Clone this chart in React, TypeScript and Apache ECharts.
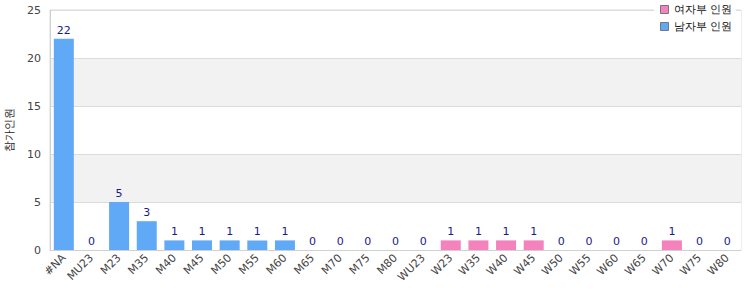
import React, { useEffect, useRef } from "react";
import * as echarts from "echarts";

const categories = ["#NA","MU23","M23","M35","M40","M45","M50","M55","M60","M65","M70","M75","M80","WU23","W23","W35","W40","W45","W50","W55","W60","W65","W70","W75","W80"];
const menValues: (number | string)[] = [22,0,5,3,1,1,1,1,1,0,0,0,0,0,"-","-","-","-","-","-","-","-","-","-","-"];
const womenValues: (number | string)[] = ["-","-","-","-","-","-","-","-","-","-","-","-","-","-",1,1,1,1,0,0,0,0,1,0,0];
const yTicks = { min: 0, max: 25, interval: 5 };
const womenName = "여자부 인원";
const menName = "남자부 인원";
const yName = "참가인원";

export default function App() {
  const ref = useRef<HTMLDivElement>(null);
  useEffect(() => {
    if (!ref.current) return;
    const chart = echarts.init(ref.current, undefined, { renderer: "svg" });
    const font = "DejaVu Sans";
    const label = { show: true, position: "top", color: "#1a1a8a", fontSize: 11, fontFamily: font, distance: 3 };
    chart.setOption({
      animation: false,
      textStyle: { fontFamily: font },
      grid: { left: 50, right: 9, top: 10, bottom: 50, show: true, borderColor: "#dcdcdc", borderWidth: 1, outerBoundsMode: "none", containLabel: false },
      legend: {
        orient: "vertical",
        right: 14,
        top: 2,
        icon: "rect",
        itemWidth: 8,
        itemHeight: 8,
        itemGap: 6,
        backgroundColor: "#fff",
        padding: [2, 4, 2, 6],
        textStyle: { fontSize: 11, color: "#111", fontFamily: font },
        data: [
          { name: womenName, itemStyle: { color: "#f382bd", borderColor: "#777", borderWidth: 1 } },
          { name: menName, itemStyle: { color: "#60a9f6", borderColor: "#777", borderWidth: 1 } },
        ],
      },
      xAxis: {
        type: "category",
        data: categories,
        axisLine: { show: true, lineStyle: { color: "#d0d0d0" } },
        axisTick: { show: false },
        axisLabel: { rotate: 45, interval: 0, color: "#444", fontSize: 11, fontFamily: font, margin: 6 },
      },
      yAxis: {
        type: "value",
        min: yTicks.min,
        max: yTicks.max,
        interval: yTicks.interval,
        name: yName,
        nameLocation: "middle",
        nameGap: 35,
        nameRotate: 90,
        nameTextStyle: { color: "#222", fontSize: 11, fontFamily: font },
        axisLine: { show: true, lineStyle: { color: "#d0d0d0" } },
        axisTick: { show: false },
        axisLabel: { color: "#444", fontSize: 11, fontFamily: font, margin: 9 },
        splitLine: { show: true, lineStyle: { color: "#dcdcdc" } },
        splitArea: { show: true, areaStyle: { color: ["#ffffff", "#f2f2f2"] } },
      },
      series: [
        { name: womenName, type: "bar", stack: "all", data: womenValues, barWidth: 20, itemStyle: { color: "#f382bd" }, label },
        { name: menName, type: "bar", stack: "all", data: menValues, barWidth: 20, itemStyle: { color: "#60a9f6" }, label },
      ],
    });
    return () => chart.dispose();
  }, []);
  return <div ref={ref} style={{ width: 750, height: 300, position: "absolute", left: 0, top: 0 }} />;
}
